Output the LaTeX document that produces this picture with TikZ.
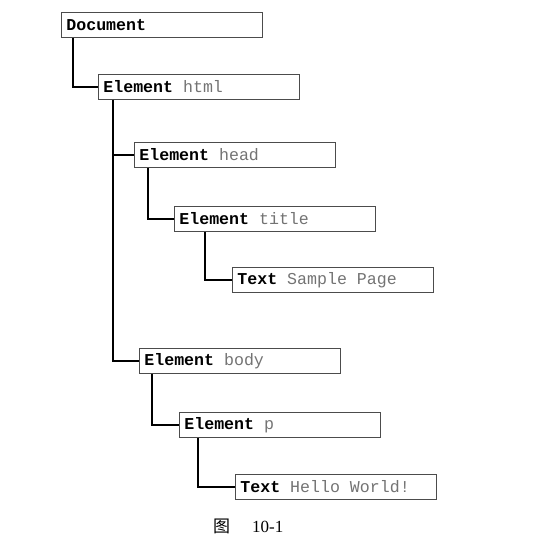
\documentclass[tikz,border=0pt]{standalone}
\usepackage{fontspec}
\setmainfont{Liberation Serif}
\setmonofont{Liberation Mono}
\newfontfamily\cjk{Noto Sans CJK SC}
\usetikzlibrary{calc}
\definecolor{boxline}{gray}{0.3}
\definecolor{valtext}{gray}{0.45}
\tikzset{
  domnode/.style={draw=boxline, line width=0.8pt, anchor=north west,
    text width=191pt, minimum height=25pt, inner xsep=5pt, inner ysep=0pt,
    align=left, font=\ttfamily\fontsize{16.6}{18}\selectfont},
  domlink/.style={draw=black, line width=1.5pt},
  figcap/.style={inner sep=0pt, anchor=west, font=\fontsize{17}{20}\selectfont},
}
\newcommand{\monosp}{\hspace*{0.6em}}
\newcommand{\domkind}[1]{\textbf{#1}\monosp}
\newcommand{\domval}[1]{\textcolor{valtext}{#1}}

\begin{document}
\begin{tikzpicture}[x=1pt,y=-1pt]
	\useasboundingbox (0,0) rectangle (541,554);
	% tree nodes
	\node[domnode] (doc) at (61,12) {\textbf{Document}};
	\node[domnode] (html) at (98,74) {\domkind{Element}\domval{html}};
	\node[domnode] (head) at (134,142) {\domkind{Element}\domval{head}};
	\node[domnode] (title) at (174,206) {\domkind{Element}\domval{title}};
	\node[domnode] (titletext) at (232,267) {\domkind{Text}\domval{Sample\monosp Page}};
	\node[domnode] (body) at (139,348) {\domkind{Element}\domval{body}};
	\node[domnode] (para) at (179,412) {\domkind{Element}\domval{p}};
	\node[domnode] (paratext) at (235,474) {\domkind{Text}\domval{Hello\monosp World!}};
	% links
	\draw[domlink] ($(doc.south west)+(12,0)$) |- (html.west);
	\draw[domlink] ($(html.south west)+(15,0)$) |- (head.west);
	\draw[domlink] ($(html.south west)+(15,0)$) |- (body.west);
	\draw[domlink] ($(head.south west)+(14,0)$) |- (title.west);
	\draw[domlink] ($(title.south west)+(31,0)$) |- (titletext.west);
	\draw[domlink] ($(body.south west)+(13,0)$) |- (para.west);
	\draw[domlink] ($(para.south west)+(19,0)$) |- (paratext.west);
	% caption
	\node[figcap] (cap) at (213,526) {{\cjk 图}\hspace{22pt}10-1};
\end{tikzpicture}
\end{document}
